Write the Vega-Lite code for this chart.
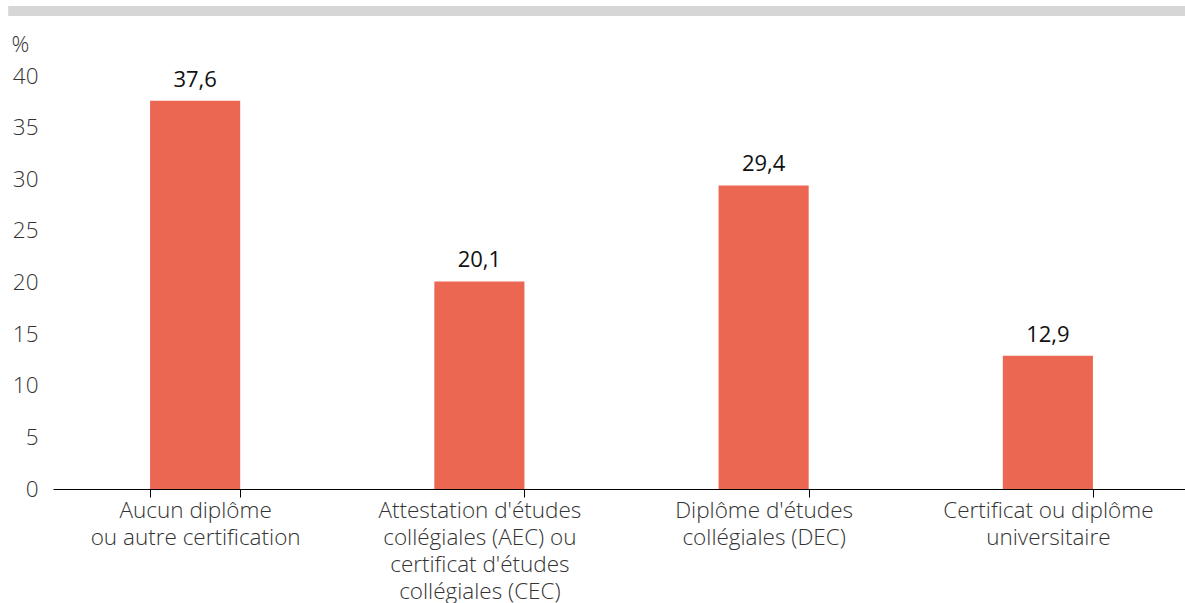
{
  "$schema": "https://vega.github.io/schema/vega-lite/v6.json",
  "autosize": "none",
  "width": 1137,
  "height": 413,
  "padding": {"left": 53, "top": 76, "right": 0, "bottom": 114},
  "background": "white",
  "config": {
    "view": {"stroke": null},
    "font": "Open Sans",
    "locale": {"number": {"decimal": ",", "thousands": " ", "grouping": [3], "currency": ["", " $"]}}
  },
  "data": {
    "values": [
      {"cat": "Aucun diplôme|ou autre certification", "v": 37.6},
      {"cat": "Attestation d'études|collégiales (AEC) ou|certificat d'études|collégiales (CEC)", "v": 20.1},
      {"cat": "Diplôme d'études|collégiales (DEC)", "v": 29.4},
      {"cat": "Certificat ou diplôme|universitaire", "v": 12.9}
    ]
  },
  "resolve": {"scale": {"x": "independent"}, "axis": {"x": "independent"}},
  "layer": [
    {
      "mark": {"type": "rule", "color": "#d6d6d6", "strokeWidth": 10},
      "encoding": {
        "y": {"datum": 46.3, "type": "quantitative"},
        "x": {"datum": -0.039, "type": "quantitative", "scale": {"domain": [0, 1]}, "axis": null},
        "x2": {"datum": 1}
      }
    },
    {
      "layer": [
        {
          "mark": {"type": "bar", "color": "#EC6752"},
          "encoding": {
            "x": {
              "field": "cat", "type": "nominal", "sort": null,
              "scale": {"paddingInner": 0.683, "paddingOuter": 0.3415},
              "axis": {
                "title": null, "labelAngle": 0, "tickBand": "extent",
                "labelExpr": "split(datum.label, '|')",
                "labelFontSize": 22.5, "labelFontWeight": 300, "labelColor": "#333333", "labelLineHeight": 27,
                "labelPadding": 2, "labelBaseline": "top", "labelLimit": 400,
                "domainColor": "#000000", "tickColor": "#000000", "tickSize": 8,
                "domainWidth": 1, "tickWidth": 1
              }
            },
            "y": {
              "field": "v", "type": "quantitative",
              "scale": {"domain": [0, 40]},
              "axis": {
                "values": [0, 5, 10, 15, 20, 25, 30, 35, 40],
                "title": "%", "titleAngle": 0, "titleX": -42, "titleY": -32,
                "titleAlign": "left", "titleBaseline": "middle",
                "titleFontSize": 22, "titleFontWeight": 300, "titleColor": "#333333",
                "labelFontSize": 22.5, "labelFontWeight": 300, "labelColor": "#333333", "labelPadding": 15,
                "ticks": false, "domain": false,
                "gridColor": "#e2e2e2", "gridWidth": 1
              }
            }
          }
        },
        {
          "mark": {"type": "text", "fontSize": 22, "color": "#111111", "baseline": "bottom", "dy": -9},
          "encoding": {
            "x": {"field": "cat", "type": "nominal", "sort": null},
            "y": {"field": "v", "type": "quantitative"},
            "text": {"field": "v", "type": "quantitative", "format": ".1f"}
          }
        }
      ]
    }
  ]
}
